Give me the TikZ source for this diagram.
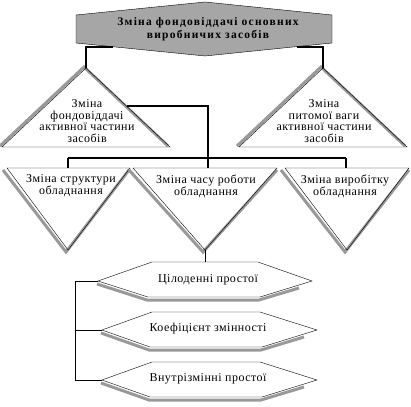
\documentclass[tikz,border=0pt]{standalone}
\usepackage{fontspec}
\setmainfont{Liberation Serif}
\newfontfamily\headfont[LetterSpace=11]{Liberation Serif}
\newfontfamily\boxfont[LetterSpace=4]{Liberation Serif}

\begin{document}
\begin{tikzpicture}[x=1pt, y=-1pt,
	shade/.style={line width=3pt, color=black!40, line join=miter},
	outline/.style={thin, line join=miter},
	conn/.style={line width=1.2pt},
	label/.style={align=center, inner sep=0pt, font=\boxfont\fontsize{12}{11.8}\selectfont}]
	\useasboundingbox (0,0) rectangle (411,406);
	% top block
	\fill[black!35] (76,15) -- (205,2) -- (332,15) -- (332,43) -- (205,56) -- (76,43) -- cycle;
	\draw[outline] (76,15) -- (205,2) -- (332,15) -- (332,43) -- (205,56) -- (76,43) -- cycle;
	\node[align=center, inner sep=0pt, font=\headfont\bfseries\fontsize{11.5}{12.5}\selectfont] (head) at (208,29)
		{Зміна фондовіддачі основних\\виробничих засобів};
	\coordinate (head-l) at (113,47);
	\coordinate (head-r) at (297,47);
	% upper triangles
	\draw[shade] ([shift={(-2,-1)}]2,147) -- ([shift={(-2,-1)}]86,68) -- ([shift={(-2,-1)}]170,147);
	\draw[outline] (2,147) -- (86,68) -- (170,147) -- cycle;
	\coordinate (act-a) at (86,68);
	\coordinate (act-e) at (127,106);
	\node[label] (act) at (87,121) {Зміна\\фондовіддачі\\активної частини\\засобів};
	\draw[shade] ([shift={(-2,-1)}]239,147) -- ([shift={(-2,-1)}]323,68) -- ([shift={(-2,-1)}]407,147);
	\draw[outline] (239,147) -- (323,68) -- (407,147) -- cycle;
	\coordinate (share-a) at (323,68);
	\node[label] (share) at (324,121) {Зміна\\питомої ваги\\активної частини\\засобів};
	\draw[conn] (head-l) -| (act-a);
	\draw[conn] (head-r) -| (share-a);
	% bar
	\coordinate (bar-l) at (68,158);
	\coordinate (bar-m) at (208,158);
	\coordinate (bar-r) at (346,158);
	\draw[conn] (act-e) -| (bar-m);
	\draw[line width=2pt] (bar-l) -- (bar-r);
	% lower triangles
	\draw[shade] ([shift={(-2,2)}]5,168) -- ([shift={(-2,2)}]68,250) -- ([shift={(-2,2)}]131,168);
	\draw[outline] (7,168) -- (130,168) -- (68,250) -- cycle;
	\coordinate (struct-t) at (68,168);
	\node[label] (struct) at (71,186) {Зміна структури\\обладнання};
	\draw[shade] ([shift={(-2,2)}]131,168) -- ([shift={(-2,2)}]205,250) -- ([shift={(-2,2)}]279,168);
	\draw[outline] (133,168) -- (277,168) -- (205,250) -- cycle;
	\coordinate (time-t) at (208,168);
	\coordinate (time-a) at (205,250);
	\node[label] (time) at (206,186) {Зміна часу роботи\\обладнання};
	\draw[shade] ([shift={(-2,2)}]283,168) -- ([shift={(-2,2)}]347,250) -- ([shift={(-2,2)}]411,168);
	\draw[outline] (285,168) -- (409,168) -- (347,250) -- cycle;
	\coordinate (output-t) at (346,168);
	\node[label] (output) at (345,186) {Зміна виробітку\\обладнання};
	\draw[conn] (bar-l) -- (struct-t);
	\draw[conn] (bar-m) -- (time-t);
	\draw[conn] (bar-r) -- (output-t);
	% hexagons
	\draw[shade] ([shift={(-1,3)}]98,281) -- ([shift={(-1,3)}]148,297) -- ([shift={(-1,3)}]260,297) -- ([shift={(-1,3)}]300,285);
	\draw[outline, fill=white] (98,281) -- (152,262) -- (258,262) -- (312,281) -- (260,297) -- (148,297) -- cycle;
	\coordinate (idle-t) at (205,262);
	\coordinate (idle-l) at (98,281);
	\node[label] (idle) at (208,280) {Цілоденні простої};
	\draw[shade] ([shift={(-1,3)}]102,330) -- ([shift={(-1,3)}]150,347) -- ([shift={(-1,3)}]262,347) -- ([shift={(-1,3)}]305,334);
	\draw[outline, fill=white] (102,330) -- (152,312) -- (260,312) -- (317,330) -- (262,347) -- (150,347) -- cycle;
	\coordinate (shift-l) at (102,330);
	\node[label] (shift) at (208,329) {Коефіцієнт змінності};
	\draw[shade] ([shift={(-1,3)}]102,380) -- ([shift={(-1,3)}]150,397) -- ([shift={(-1,3)}]262,397) -- ([shift={(-1,3)}]305,384);
	\draw[outline, fill=white] (102,380) -- (152,362) -- (260,362) -- (317,380) -- (262,397) -- (150,397) -- cycle;
	\coordinate (inner-l) at (102,380);
	\node[label] (inner) at (208,379) {Внутрізмінні простої};
	\draw[thin] (time-a) -- (idle-t);
	% bracket
	\coordinate (brk-t) at (75,281);
	\coordinate (brk-m) at (75,330);
	\coordinate (brk-b) at (75,380);
	\draw[thin] (idle-l) -- (brk-t) -- (brk-b) -- (inner-l);
	\draw[thin] (brk-m) -- (shift-l);
\end{tikzpicture}
\end{document}
